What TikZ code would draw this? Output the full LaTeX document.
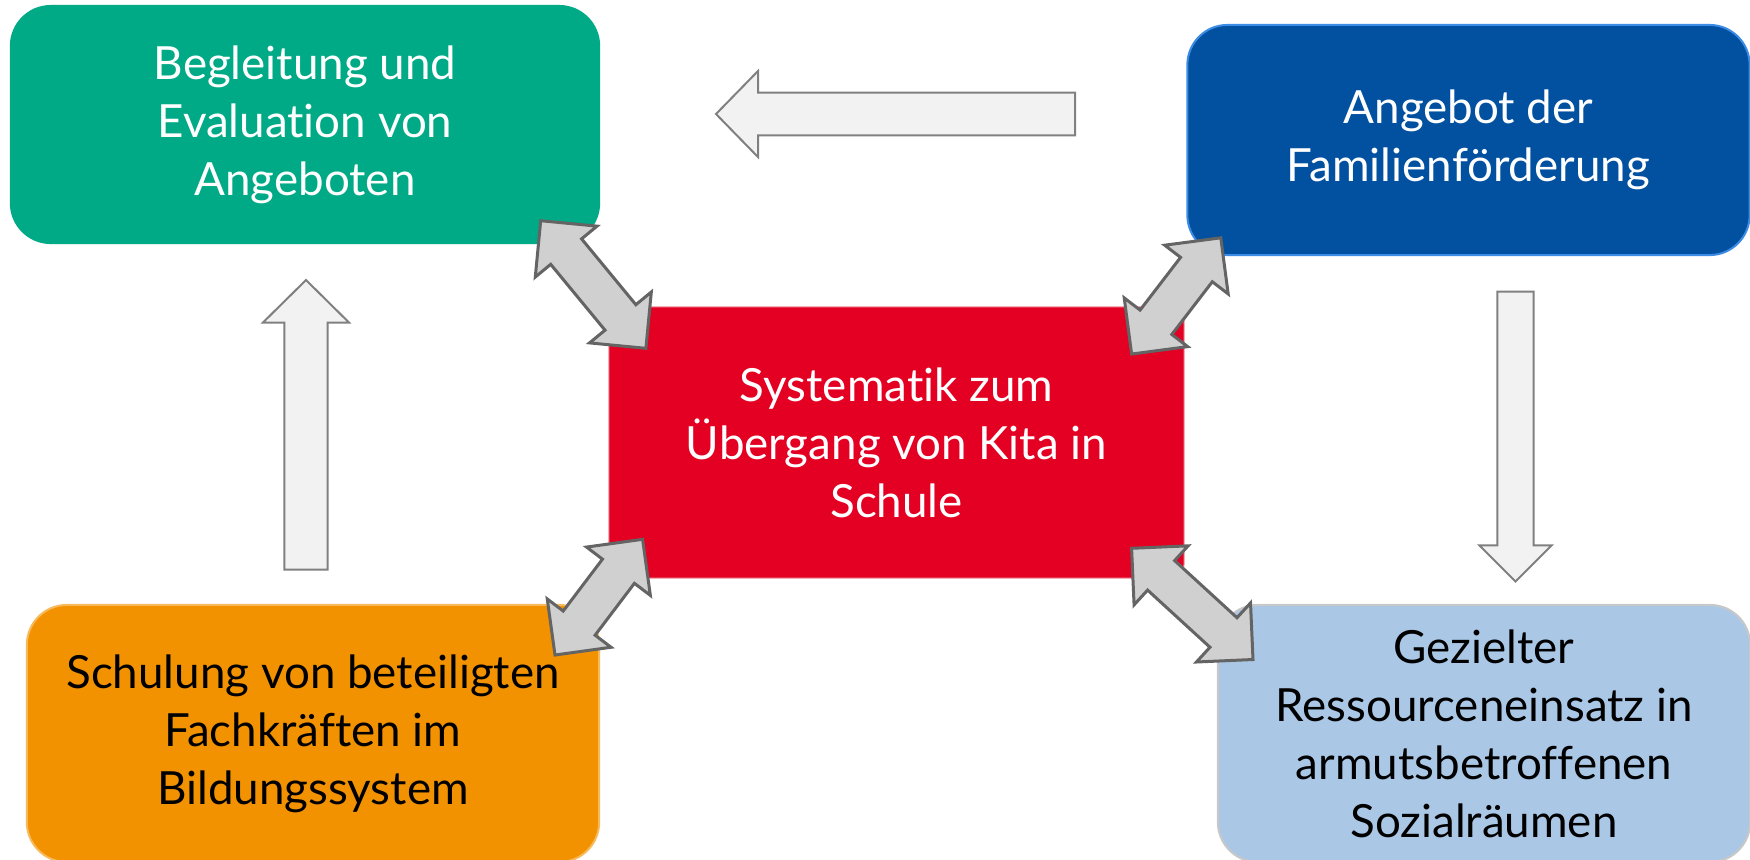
\documentclass[tikz,border=0pt]{standalone}
\usepackage{fontspec}
\setmainfont{Lato}[Ligatures=NoCommon]
\usetikzlibrary{calc}
\definecolor{cgreen}{RGB}{0,170,134}
\definecolor{cblue}{RGB}{2,80,160}
\definecolor{cblueb}{RGB}{60,140,230}
\definecolor{cred}{RGB}{227,0,34}
\definecolor{credb}{RGB}{240,150,160}
\definecolor{corange}{RGB}{242,146,0}
\definecolor{coranb}{RGB}{248,185,90}
\definecolor{clblue}{RGB}{170,200,230}
\definecolor{clblueb}{RGB}{200,200,200}
\definecolor{hollowfill}{RGB}{242,242,242}
\definecolor{hollowdraw}{RGB}{128,128,128}
\definecolor{dblfill}{RGB}{208,208,208}
\definecolor{dbldraw}{RGB}{100,100,100}
\tikzset{
  box/.style={rectangle, rounded corners=0.4cm, align=center, inner sep=0pt,
    font=\fontsize{13pt}{16.5pt}\selectfont, line width=0.02cm},
  hollowarrow/.style={fill=hollowfill, draw=hollowdraw, line width=0.02cm, line join=miter},
  dblarrowstyle/.style={fill=dblfill, draw=dbldraw, line width=0.03cm, line join=miter},
}
\newcommand\dblarrow[2]{%
  \coordinate (#1h) at ($(#1)!0.4cm!(#2)$);
  \coordinate (#2h) at ($(#2)!0.4cm!(#1)$);
  \draw[dblarrowstyle] (#1)
    -- ($(#1h)!0.4cm!90:(#2)$) -- ($(#1h)!0.2cm!90:(#2)$)
    -- ($(#2h)!0.2cm!-90:(#1)$) -- ($(#2h)!0.4cm!-90:(#1)$)
    -- (#2)
    -- ($(#2h)!0.4cm!90:(#1)$) -- ($(#2h)!0.2cm!90:(#1)$)
    -- ($(#1h)!0.2cm!-90:(#2)$) -- ($(#1h)!0.4cm!-90:(#2)$)
    -- cycle;
}
% #1 tail, #2 tip, #3 head length, #4 head half width, #5 shaft half width
\newcommand\singlearrow[5]{%
  \coordinate (#2h) at ($(#2)!#3!(#1)$);
  \draw[hollowarrow] (#2)
    -- ($(#2h)!#4!90:(#1)$) -- ($(#2h)!#5!90:(#1)$)
    -- ($(#1)!#5!-90:(#2)$) -- ($(#1)!#5!90:(#2)$)
    -- ($(#2h)!#5!-90:(#1)$) -- ($(#2h)!#4!-90:(#1)$)
    -- cycle;
}
\begin{document}
\begin{tikzpicture}[x=0.01cm, y=-0.01cm]
\clip (0,0) rectangle (1750,859);
\fill[white] (0,0) rectangle (1750,859);

% boxes
\node[box, fill=cgreen, draw=cgreen, text=white, minimum width=5.88cm, minimum height=2.37cm]
  (green) at (305,124.5) {Begleitung und\\Evaluation von\\Angeboten};
\node[box, fill=cblue, draw=cblueb, text=white, minimum width=5.62cm, minimum height=2.30cm]
  (blue) at (1468.5,140) {Angebot der\\Familienförderung};
\node[box, rounded corners=0.15cm, fill=cred, draw=credb, line width=0.01cm, text=white,
  minimum width=5.75cm, minimum height=2.71cm]
  (red) at (896.5,442.5) {Systematik zum\\Übergang von Kita in\\Schule};
\node[box, fill=corange, draw=coranb, text=black, minimum width=5.72cm, minimum height=2.57cm]
  (orange) at (313,733.5) {Schulung von beteiligten\\Fachkräften im\\Bildungssystem};
\node[box, fill=clblue, draw=clblueb, text=black, minimum width=5.32cm, minimum height=2.57cm]
  (lblue) at (1484,733.5) {Gezielter\\Ressourceneinsatz in\\armutsbetroffenen\\Sozialräumen};

% hollow single arrows
\coordinate (hTail) at (1075,114);
\coordinate (hTip) at (716,114);
\singlearrow{hTail}{hTip}{0.42cm}{0.43cm}{0.213cm}
\coordinate (uTail) at (306,569.5);
\coordinate (uTip) at (306,280);
\singlearrow{uTail}{uTip}{0.425cm}{0.43cm}{0.217cm}
\coordinate (dTail) at (1515.5,291.5);
\coordinate (dTip) at (1515.5,581.5);
\singlearrow{dTail}{dTip}{0.36cm}{0.36cm}{0.18cm}

% double arrows
\coordinate (ulA) at (540.7,220.7);
\coordinate (ulB) at (645.9,348.3);
\dblarrow{ulA}{ulB}
\coordinate (urA) at (1220.8,237.8);
\coordinate (urB) at (1131.6,354);
\dblarrow{urA}{urB}
\coordinate (llA) at (642.6,539.3);
\coordinate (llB) at (555,655);
\dblarrow{llA}{llB}
\coordinate (lrA) at (1131.6,548.3);
\coordinate (lrB) at (1253,659.5);
\dblarrow{lrA}{lrB}
\end{tikzpicture}
\end{document}
